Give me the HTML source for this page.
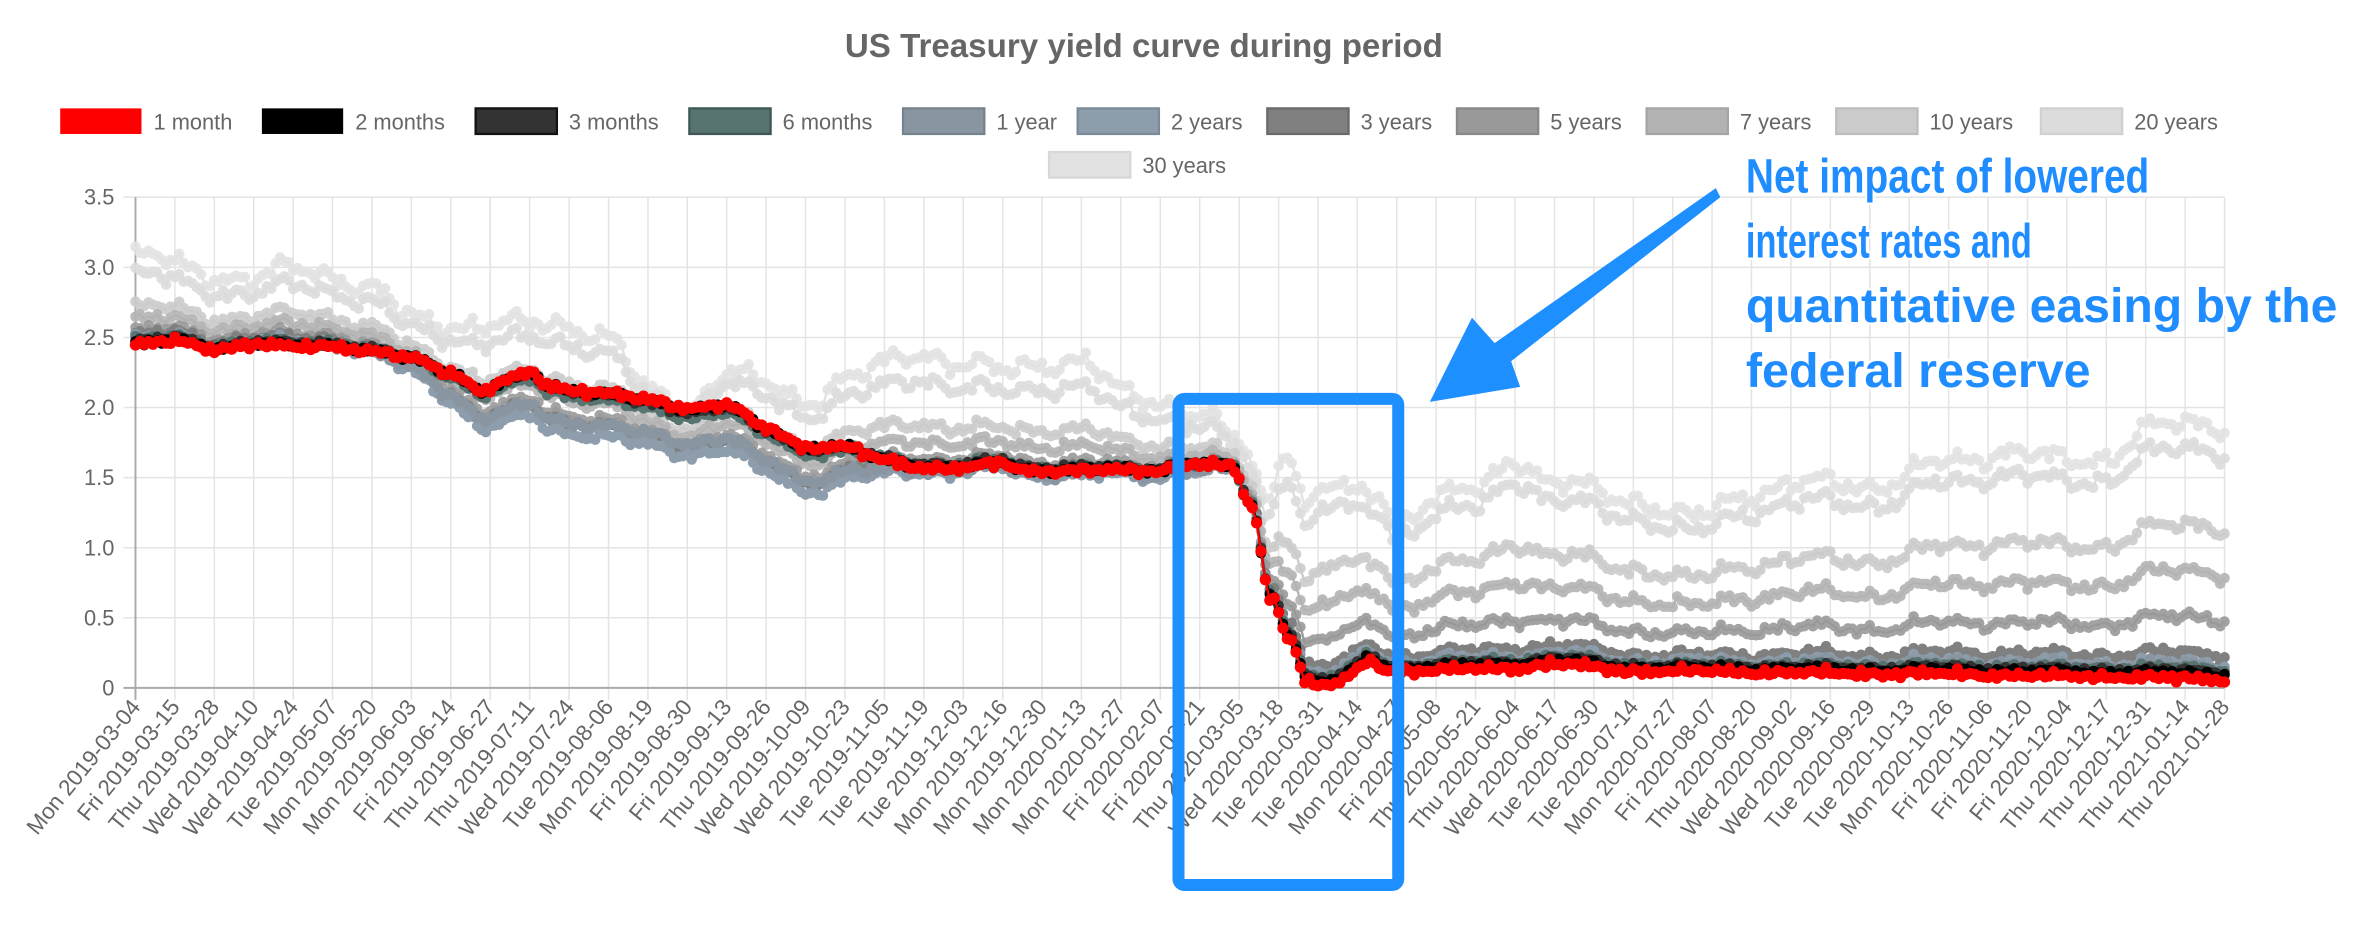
<!DOCTYPE html>
<html><head><meta charset="utf-8"><style>
html,body{margin:0;padding:0;background:#fff;overflow:hidden}
svg{display:block}
text{font-family:"Liberation Sans",sans-serif}
.t{fill:#666;font-size:14.5px}
.xl{fill:#666;font-size:15px;text-anchor:end}
.an{font-family:"Liberation Sans",sans-serif;font-weight:bold;font-size:32px;fill:#1f8dff;stroke:#fff;stroke-width:3;paint-order:stroke;stroke-linejoin:round}
</style></head><body>
<svg id="s" width="2360" height="938" viewBox="0 0 1568 623.2" xmlns="http://www.w3.org/2000/svg">
<rect width="1568" height="624" fill="#fff"/>
<g id="grid"></g>
<g id="data"></g>
<text x="760" y="38" text-anchor="middle" style="font-size:22px;font-weight:bold;fill:#666">US Treasury yield curve during period</text>
<g>
<rect x="40" y="72" width="54" height="17" fill="#ff0000"/><text class="t" x="102" y="86">1 month</text>
<rect x="174" y="72" width="54" height="17" fill="#000"/><text class="t" x="236" y="86">2 months</text>
<rect x="316" y="72" width="54" height="17" fill="#333" stroke="#111" stroke-width="1.5"/><text class="t" x="378" y="86">3 months</text>
<rect x="458" y="72" width="54" height="17" fill="#587470" stroke="#3e5754" stroke-width="1.5"/><text class="t" x="520" y="86">6 months</text>
<rect x="600" y="72" width="54" height="17" fill="#8a95a2" stroke="#76818e" stroke-width="1.5"/><text class="t" x="662" y="86">1 year</text>
<rect x="716" y="72" width="54" height="17" fill="#8d9dab" stroke="#7a8a98" stroke-width="1.5"/><text class="t" x="778" y="86">2 years</text>
<rect x="842" y="72" width="54" height="17" fill="#808080" stroke="#6a6a6a" stroke-width="1.5"/><text class="t" x="904" y="86">3 years</text>
<rect x="968" y="72" width="54" height="17" fill="#999" stroke="#888" stroke-width="1.5"/><text class="t" x="1030" y="86">5 years</text>
<rect x="1094" y="72" width="54" height="17" fill="#b3b3b3" stroke="#a5a5a5" stroke-width="1.5"/><text class="t" x="1156" y="86">7 years</text>
<rect x="1220" y="72" width="54" height="17" fill="#cbcbcb" stroke="#bdbdbd" stroke-width="1.5"/><text class="t" x="1282" y="86">10 years</text>
<rect x="1356" y="72" width="54" height="17" fill="#dcdcdc" stroke="#d0d0d0" stroke-width="1.5"/><text class="t" x="1418" y="86">20 years</text>
<rect x="697" y="101" width="54" height="17" fill="#e2e2e2" stroke="#d8d8d8" stroke-width="1.5"/><text class="t" x="759" y="115">30 years</text>
</g>
<g class="t" text-anchor="end">
<text x="76" y="136">3.5</text><text x="76" y="182.6">3.0</text><text x="76" y="229.2">2.5</text><text x="76" y="275.8">2.0</text><text x="76" y="322.4">1.5</text><text x="76" y="369">1.0</text><text x="76" y="415.6">0.5</text><text x="76" y="462">0</text>
</g>
<g class="xl">
<text transform="translate(94,470) rotate(-51)">Mon 2019-03-04</text>
<text transform="translate(120.2,470) rotate(-51)">Fri 2019-03-15</text>
<text transform="translate(146.4,470) rotate(-51)">Thu 2019-03-28</text>
<text transform="translate(172.6,470) rotate(-51)">Wed 2019-04-10</text>
<text transform="translate(198.8,470) rotate(-51)">Wed 2019-04-24</text>
<text transform="translate(224.9,470) rotate(-51)">Tue 2019-05-07</text>
<text transform="translate(251.1,470) rotate(-51)">Mon 2019-05-20</text>
<text transform="translate(277.3,470) rotate(-51)">Mon 2019-06-03</text>
<text transform="translate(303.5,470) rotate(-51)">Fri 2019-06-14</text>
<text transform="translate(329.7,470) rotate(-51)">Thu 2019-06-27</text>
<text transform="translate(355.9,470) rotate(-51)">Thu 2019-07-11</text>
<text transform="translate(382.1,470) rotate(-51)">Wed 2019-07-24</text>
<text transform="translate(408.3,470) rotate(-51)">Tue 2019-08-06</text>
<text transform="translate(434.5,470) rotate(-51)">Mon 2019-08-19</text>
<text transform="translate(460.6,470) rotate(-51)">Fri 2019-08-30</text>
<text transform="translate(486.8,470) rotate(-51)">Fri 2019-09-13</text>
<text transform="translate(513,470) rotate(-51)">Thu 2019-09-26</text>
<text transform="translate(539.2,470) rotate(-51)">Wed 2019-10-09</text>
<text transform="translate(565.4,470) rotate(-51)">Wed 2019-10-23</text>
<text transform="translate(591.6,470) rotate(-51)">Tue 2019-11-05</text>
<text transform="translate(617.8,470) rotate(-51)">Tue 2019-11-19</text>
<text transform="translate(644,470) rotate(-51)">Tue 2019-12-03</text>
<text transform="translate(670.2,470) rotate(-51)">Mon 2019-12-16</text>
<text transform="translate(696.3,470) rotate(-51)">Mon 2019-12-30</text>
<text transform="translate(722.5,470) rotate(-51)">Mon 2020-01-13</text>
<text transform="translate(748.7,470) rotate(-51)">Mon 2020-01-27</text>
<text transform="translate(774.9,470) rotate(-51)">Fri 2020-02-07</text>
<text transform="translate(801.1,470) rotate(-51)">Fri 2020-02-21</text>
<text transform="translate(827.3,470) rotate(-51)">Thu 2020-03-05</text>
<text transform="translate(853.5,470) rotate(-51)">Wed 2020-03-18</text>
<text transform="translate(879.7,470) rotate(-51)">Tue 2020-03-31</text>
<text transform="translate(905.9,470) rotate(-51)">Tue 2020-04-14</text>
<text transform="translate(932.1,470) rotate(-51)">Mon 2020-04-27</text>
<text transform="translate(958.2,470) rotate(-51)">Fri 2020-05-08</text>
<text transform="translate(984.4,470) rotate(-51)">Thu 2020-05-21</text>
<text transform="translate(1010.6,470) rotate(-51)">Thu 2020-06-04</text>
<text transform="translate(1036.8,470) rotate(-51)">Wed 2020-06-17</text>
<text transform="translate(1063,470) rotate(-51)">Tue 2020-06-30</text>
<text transform="translate(1089.2,470) rotate(-51)">Tue 2020-07-14</text>
<text transform="translate(1115.4,470) rotate(-51)">Mon 2020-07-27</text>
<text transform="translate(1141.6,470) rotate(-51)">Fri 2020-08-07</text>
<text transform="translate(1167.8,470) rotate(-51)">Thu 2020-08-20</text>
<text transform="translate(1194,470) rotate(-51)">Wed 2020-09-02</text>
<text transform="translate(1220.1,470) rotate(-51)">Wed 2020-09-16</text>
<text transform="translate(1246.3,470) rotate(-51)">Tue 2020-09-29</text>
<text transform="translate(1272.5,470) rotate(-51)">Tue 2020-10-13</text>
<text transform="translate(1298.7,470) rotate(-51)">Mon 2020-10-26</text>
<text transform="translate(1324.9,470) rotate(-51)">Fri 2020-11-06</text>
<text transform="translate(1351.1,470) rotate(-51)">Fri 2020-11-20</text>
<text transform="translate(1377.3,470) rotate(-51)">Fri 2020-12-04</text>
<text transform="translate(1403.5,470) rotate(-51)">Thu 2020-12-17</text>
<text transform="translate(1429.7,470) rotate(-51)">Thu 2020-12-31</text>
<text transform="translate(1455.8,470) rotate(-51)">Thu 2021-01-14</text>
<text transform="translate(1482,470) rotate(-51)">Thu 2021-01-28</text>
</g>
<rect x="783" y="265" width="146" height="323" rx="4" fill="none" stroke="#1e8fff" stroke-width="8"/>
<polygon points="1140,125 1143,131 1004,240 1010,257 950,267 978,211 993,228" fill="#1e8fff"/>
<text class="an" x="1160" y="128" textLength="268" lengthAdjust="spacingAndGlyphs">Net impact of lowered</text>
<text class="an" x="1160" y="171" textLength="190" lengthAdjust="spacingAndGlyphs">interest rates and</text>
<text class="an" x="1160" y="214" textLength="393" lengthAdjust="spacingAndGlyphs">quantitative easing by the</text>
<text class="an" x="1160" y="257" textLength="229" lengthAdjust="spacingAndGlyphs">federal reserve</text>
</svg>
<script>
(function(){
var NS="http://www.w3.org/2000/svg";
var X0=90,W=1388,Y0=457,K=93.14;
var g=document.getElementById('grid'),d=document.getElementById('data');
function el(p,t,a){var e=document.createElementNS(NS,t);for(var k in a)e.setAttribute(k,a[k]);p.appendChild(e);return e;}
var gp="";
for(var j=0;j<=53;j++){var x=X0+j*W/53;gp+="M"+x.toFixed(1)+" 131V"+(j==0?457:465);}
for(var v=1;v<=7;v++){var y=Y0-v*0.5*K;gp+="M82 "+y.toFixed(1)+"H1478";}
el(g,'path',{d:gp,stroke:'#e4e4e4','stroke-width':1,fill:'none'});
el(g,'path',{d:'M90 131V465M82 457H1478',stroke:'#aaa','stroke-width':1.3,fill:'none'});
function interp(kf,t){if(t<=kf[0][0])return kf[0][1];for(var i=1;i<kf.length;i++){if(t<=kf[i][0]){var a=kf[i-1],b=kf[i],f=(t-a[0])/(b[0]-a[0]);f=f*f*(3-2*f);return a[1]+(b[1]-a[1])*f;}}return kf[kf.length-1][1];}
var K1=[[0,2.45],[1,2.47],[2,2.42],[3,2.45],[4,2.43],[5,2.44],[6,2.40],[7,2.35],[8,2.25],[8.8,2.12],[9.5,2.2],[10,2.25],[10.5,2.15],[11,2.13],[12,2.1],[13,2.05],[14,2.0],[15,2.02],[16,1.85],[17,1.72],[18,1.72],[19,1.62],[20,1.57],[21,1.57],[22,1.6],[22.5,1.55],[24,1.55],[26,1.55],[26.5,1.6],[27.8,1.58],[28.3,1.3],[28.8,0.65],[29.3,0.35],[29.7,0.05],[30,0.01],[30.5,0.03],[31,0.12],[31.3,0.2],[31.7,0.13],[32,0.12],[35,0.14],[36,0.17],[38,0.12],[45,0.1],[50,0.08],[53,0.06]];
var K30=[[0,3.08],[2,2.95],[3,2.92],[4,2.98],[5,2.95],[6,2.85],[7,2.62],[8,2.6],[10,2.58],[11,2.6],[12,2.5],[13,2.1],[14,2.0],[15,2.25],[16,2.15],[17,2.05],[18,2.2],[20,2.4],[21,2.3],[22,2.25],[23,2.33],[24,2.33],[25,2.1],[26,2.05],[27,1.95],[28,1.75],[28.7,1.35],[29.2,1.75],[29.7,1.3],[30.3,1.45],[31,1.35],[31.5,1.4],[32,1.2],[33,1.35],[34,1.4],[35,1.65],[36,1.45],[38,1.35],[39.5,1.2],[41,1.4],[42,1.45],[44,1.45],[46,1.6],[47.5,1.7],[49,1.6],[50,1.65],[51,1.85],[53,1.88]];
function dip(t){return interp([[5,0],[10,1],[17,1],[20,0.2],[27,0.2],[28.5,0]],t);}
function bl(t){return interp([[27.5,0],[30.5,1]],t);}
var S=[
['#e2e2e2',1,1,0,1],
['#dcdcdc',.78,.9,.05,2],
['#cbcbcb',.42,.6,.25,3],
['#b3b3b3',.28,.42,.35,4],
['#999999',.15,.24,.45,5],
['#808080',.1,.1,.5,6],
['#8d9dab',.05,.06,.6,7],
['#8a95a2',.04,.05,.45,8],
['#587470',.05,.04,.12,9],
['#333333',.04,.03,.05,10],
['#000000',.01,.02,.01,11],
['#ff0000',0,0,0,12]];
var N=478;
function cn(t){return 0.035*Math.sin(t*2.1)+0.03*Math.sin(t*5.3+1)+0.02*Math.sin(t*11.7+2)+0.012*Math.sin(t*23+0.5);}
S.forEach(function(s){
 var pts=[];
 for(var i=0;i<N;i++){
  var t=i/9,m=interp(K1,t),L=interp(K30,t),b=bl(t),w=s[1]*(1-b)+s[2]*b;
  var v=m+w*(L-m)-s[3]*dip(t)*0.55;
  v+=cn(t)*(0.2+w+s[3]*0.5)+0.01*Math.sin(i*1.7+s[4]*3)+0.008*Math.sin(i*3.1+s[4]);
  if(s[4]==12)v+=0.01*Math.sin(i*2.3);
  if(v<0.01)v=0.01+Math.abs(Math.sin(i))*0.02;
  pts.push([X0+i*W/(N-1),Y0-v*K]);
 }
 var lp="M"+pts.map(function(p){return p[0].toFixed(1)+" "+p[1].toFixed(1);}).join("L");
 var dp=pts.map(function(p){return "M"+p[0].toFixed(1)+" "+p[1].toFixed(1)+"h0";}).join("");
 el(d,'path',{d:lp,stroke:s[0],'stroke-width':1.5,fill:'none'});
 el(d,'path',{d:dp,stroke:s[0],'stroke-width':s[4]==12?7.5:7,'stroke-linecap':'round',fill:'none',opacity:s[4]<=5?0.9:1});
});
})();
</script>
</body></html>
